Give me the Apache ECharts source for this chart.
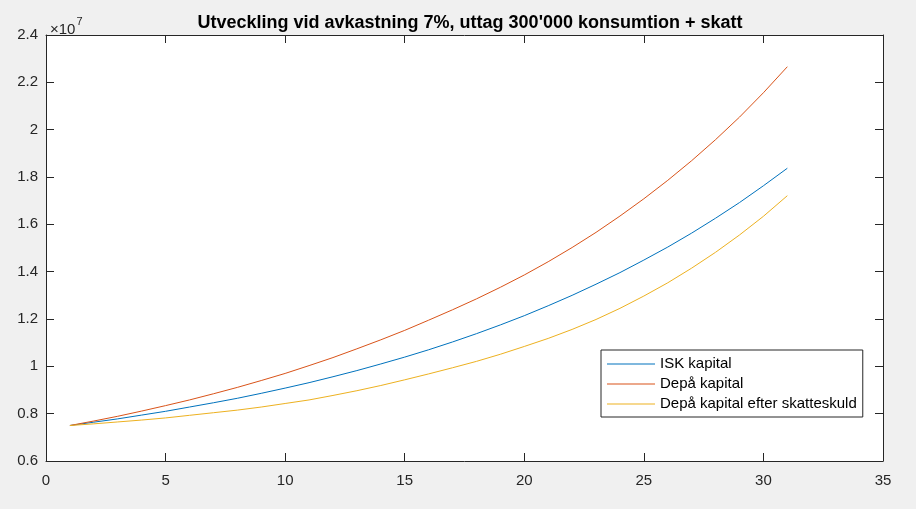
<!DOCTYPE html>
<html>
<head>
<meta charset="utf-8">
<script src="https://cdn.jsdelivr.net/npm/echarts@6/dist/echarts.min.js"></script>
<style>
html,body{margin:0;padding:0;background:#f0f0f0;}
#chart{width:916px;height:509px;}
</style>
</head>
<body>
<div id="chart"></div>
<script>
// years (x values) and capital values in units of 10^7
const years = [1,2,3,4,5,6,7,8,9,10,11,12,13,14,15,16,17,18,19,20,21,22,23,24,25,26,27,28,29,30,31];
const iskKapital = [0.750,0.764,0.778,0.794,0.810,0.828,0.846,0.865,0.886,0.908,0.931,0.956,0.982,1.010,1.039,1.070,1.103,1.138,1.175,1.214,1.256,1.300,1.347,1.396,1.449,1.504,1.563,1.626,1.692,1.763,1.837];
const depaKapital = [0.750,0.769,0.789,0.811,0.834,0.858,0.884,0.911,0.940,0.970,1.003,1.037,1.074,1.112,1.152,1.195,1.239,1.285,1.334,1.386,1.442,1.502,1.566,1.635,1.708,1.786,1.869,1.958,2.053,2.156,2.266];
const depaEfterSkatt = [0.750,0.757,0.765,0.773,0.782,0.793,0.804,0.815,0.828,0.843,0.858,0.877,0.897,0.919,0.943,0.968,0.994,1.021,1.051,1.084,1.118,1.156,1.198,1.245,1.297,1.353,1.415,1.482,1.555,1.634,1.721];
const seriesNames = ['ISK kapital','Depå kapital','Depå kapital efter skatteskuld'];
const titleText = "Utveckling vid avkastning 7%, uttag 300'000 konsumtion + skatt";
const colors = ['#0072BD','#D95319','#EDB120'];

const pair = arr => years.map((x,i)=>[x,arr[i]]);
const axisColor = '#262626';
const font = 'Arial, "Liberation Sans", Helvetica, sans-serif';
const fmtY = v => String(parseFloat(v.toFixed(1)));

const chart = echarts.init(document.getElementById('chart'), null, {renderer:'canvas'});
const baseX = {type:'value', min:0, max:35, interval:5, gridIndex:0,
  axisLine:{show:true, onZero:false, lineStyle:{color:axisColor, width:1}},
  axisTick:{show:true, inside:true, length:8, lineStyle:{color:axisColor}},
  splitLine:{show:false}};
const baseY = {type:'value', min:0.6, max:2.4, interval:0.2, gridIndex:0,
  axisLine:{show:true, onZero:false, lineStyle:{color:axisColor, width:1}},
  axisTick:{show:true, inside:true, length:8, lineStyle:{color:axisColor}},
  splitLine:{show:false}};

chart.setOption({
  backgroundColor:'#f0f0f0',
  animation:false,
  color: colors,
  title:[
    {text:titleText, left:465, textAlign:'center', top:9,
     textStyle:{fontFamily:font, fontSize:18, fontWeight:'bold', color:'#000'}},
    {text:'{a|×10}{b|7}', left:45, top:9,
     textStyle:{fontWeight:'normal', rich:{
       a:{fontFamily:font, fontSize:15, fontWeight:'normal', color:axisColor, padding:[8,0,0,0]},
       b:{fontFamily:font, fontSize:11, fontWeight:'normal', color:axisColor, padding:[0,0,7,1]}}}}
  ],
  grid:{left:46, right:33, top:35, bottom:48, show:true, backgroundColor:'#ffffff', borderWidth:0},
  legend:{
    orient:'vertical', left:601, top:350,
    backgroundColor:'#ffffff', borderColor:axisColor, borderWidth:1, borderRadius:0,
    padding:[6,6,5,6], itemGap:4, itemWidth:48, itemHeight:1, icon:'rect',
    textStyle:{fontFamily:font, fontSize:15, lineHeight:16, color:'#000'},
    data: seriesNames
  },
  xAxis:[
    Object.assign({}, baseX, {position:'bottom',
      axisLabel:{show:true, margin:12, color:axisColor, fontFamily:font, fontSize:15}}),
    Object.assign({}, baseX, {position:'top', axisLabel:{show:false}})
  ],
  yAxis:[
    Object.assign({}, baseY, {position:'left',
      axisLabel:{show:true, margin:8, padding:[5,0,0,0], color:axisColor, fontFamily:font, fontSize:15, formatter:fmtY}}),
    Object.assign({}, baseY, {position:'right', axisLabel:{show:false}})
  ],
  series:[
    {name:seriesNames[0], type:'line', data:pair(iskKapital), symbol:'none', showSymbol:false,
     lineStyle:{width:1, color:colors[0]}, itemStyle:{color:colors[0]}, xAxisIndex:0, yAxisIndex:0},
    {name:seriesNames[1], type:'line', data:pair(depaKapital), symbol:'none', showSymbol:false,
     lineStyle:{width:1, color:colors[1]}, itemStyle:{color:colors[1]}, xAxisIndex:0, yAxisIndex:0},
    {name:seriesNames[2], type:'line', data:pair(depaEfterSkatt), symbol:'none', showSymbol:false,
     lineStyle:{width:1, color:colors[2]}, itemStyle:{color:colors[2]}, xAxisIndex:0, yAxisIndex:0}
  ]
});
</script>
</body>
</html>
